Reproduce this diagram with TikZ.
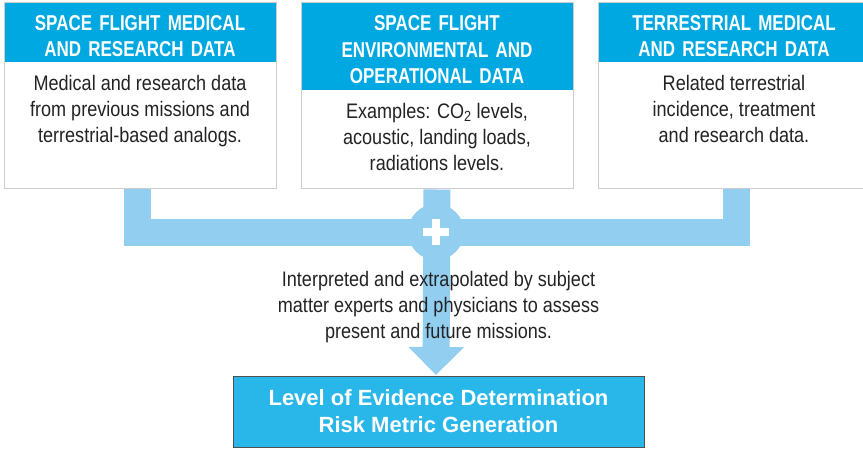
\documentclass[tikz,border=0pt]{standalone}
\usepackage{fontspec}
\setmainfont{Liberation Sans}
\newfontfamily\bodyfont{Liberation Sans}[FakeStretch=0.86]
\newfontfamily\headfont{Liberation Sans}[FakeStretch=0.79]
\usetikzlibrary{positioning, arrows.meta}
\definecolor{headblue}{RGB}{0,168,225}
\definecolor{lodblue}{RGB}{41,182,233}
\definecolor{flowblue}{RGB}{146,206,240}
\definecolor{boxgray}{RGB}{205,205,205}
\definecolor{txtgray}{RGB}{35,35,35}
\tikzset{
x=1pt, y=-1pt, % picture is laid out in pixels, y downwards
databox/.style={draw=boxgray, line width=1pt, fill=white, minimum width=272pt, minimum height=186pt, inner sep=0pt}, % frame of one data source
head/.style={fill=headblue, text=white, font=\headfont\bfseries\fontsize{21.5}{26.5}\selectfont, text width=266pt, align=center, minimum width=271pt, inner sep=0pt, anchor=north, execute at begin node=\rule{0pt}{21.4pt}}, % blue title strip
body/.style={text=txtgray, font=\bodyfont\fontsize{21}{26}\selectfont, align=center, inner sep=0pt}, % description text
flow/.style={draw=flowblue, line width=27pt, line join=miter}, % light blue band
}

\begin{document}
\begin{tikzpicture}
    \useasboundingbox (0,0) rectangle (863,449);
    % data sources
    \node[databox] (b1) at (140,96) {};
    \node[databox, right=24pt of b1] (b2) {};
    \node[databox, right=24pt of b2] (b3) {};
    \node[head, minimum height=59pt] (h1) at ([yshift=-0.5pt]b1.north) {SPACE FLIGHT MEDICAL\\AND RESEARCH DATA};
    \node[head, minimum height=87pt] (h2) at ([yshift=-0.5pt]b2.north) {SPACE FLIGHT\\ENVIRONMENTAL AND\\OPERATIONAL DATA};
    \node[head, minimum height=59pt] (h3) at ([yshift=-0.5pt]b3.north) {TERRESTRIAL MEDICAL\\AND RESEARCH DATA};
    \node[body, below=13pt of h1] (t1) {Medical and research data\\from previous missions and\\terrestrial-based analogs.};
    \node[body, below=13pt of h2] (t2) {Examples: CO\textsubscript{2} levels,\\acoustic, landing loads,\\radiations levels.};
    \node[body, below=13pt of h3] (t3) {Related terrestrial\\incidence, treatment\\and research data.};
    % joining band and arrow
    \coordinate (tip) at (436,375);
    \draw[flow] ([xshift=-2.5pt]b1.south) -- ++(0,43) -| ([xshift=2.5pt]b3.south);
    \draw[flow, -{Triangle[width=54pt, length=28pt]}] (b2.south) -- (tip);
    \node[circle, fill=flowblue, minimum size=56pt, inner sep=0pt] (plus) at (436,232) {};
    \draw[white, line width=8pt] ([xshift=-13pt]plus.center) -- ([xshift=13pt]plus.center);
    \draw[white, line width=8pt] ([yshift=-13pt]plus.center) -- ([yshift=13pt]plus.center);
    \node[body] (note) at (438.5,307) {Interpreted and extrapolated by subject\\matter experts and physicians to assess\\present and future missions.};
    % result
    \node[draw=txtgray!80, line width=0.8pt, fill=lodblue, text=white, minimum width=411pt, minimum height=71pt, align=center, font=\bfseries\fontsize{22}{27}\selectfont, execute at begin node=\rule{0pt}{25pt}] (lod) at (438.5,411.5) {Level of Evidence Determination\\Risk Metric Generation};
\end{tikzpicture}
\end{document}
